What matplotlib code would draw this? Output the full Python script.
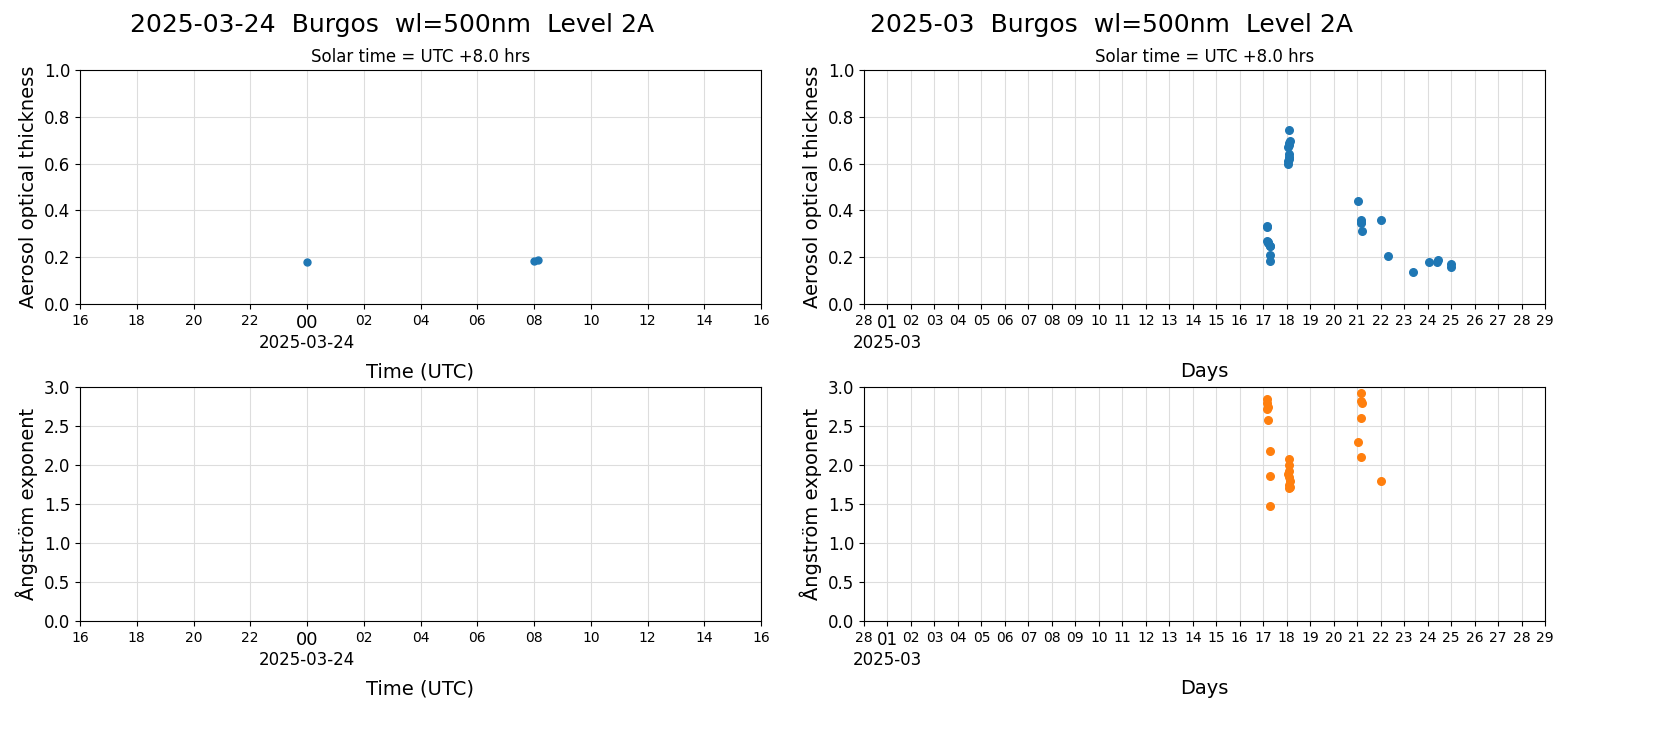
import matplotlib
matplotlib.use("Agg")
import matplotlib.pyplot as plt
import numpy as np

# Left panel: hours relative to 2025-03-24 00:00 UTC
day_hours = [0.0, 8.0, 8.15]
day_aod = [0.178, 0.182, 0.186]

# Right panel: day of March (fractional)
m_days_aod = [17.15, 17.15, 17.15, 17.2, 17.2, 17.3, 17.3, 17.3, 17.3,
              18.1, 18.1, 18.1, 18.15, 18.05, 18.1, 18.1, 18.1, 18.05, 18.05,
              21.05, 21.15, 21.15, 21.15, 21.2, 22.0, 22.3, 23.4, 24.05, 24.4, 24.45, 25.0, 25.0]
m_aod = [0.335, 0.33, 0.27, 0.26, 0.265, 0.25, 0.21, 0.185, 0.25,
         0.745, 0.69, 0.68, 0.695, 0.67, 0.64, 0.63, 0.62, 0.61, 0.60,
         0.44, 0.36, 0.35, 0.345, 0.31, 0.36, 0.205, 0.135, 0.18, 0.18, 0.19, 0.17, 0.16]
m_days_ae = [17.15, 17.15, 17.2, 17.15, 17.2, 17.3, 17.3, 17.3,
             18.1, 18.1, 18.1, 18.05, 18.1, 18.15, 18.1, 18.15, 18.1,
             21.15, 21.15, 21.2, 21.15, 21.05, 21.15, 22.0]
m_ae = [2.84, 2.80, 2.75, 2.72, 2.58, 2.18, 1.86, 1.47,
        2.08, 2.0, 1.92, 1.88, 1.85, 1.80, 1.75, 1.72, 1.70,
        2.92, 2.82, 2.80, 2.60, 2.29, 2.10, 1.80]

left_ticks = list(range(-8, 17, 2))
left_labels = ["16", "18", "20", "22", "00", "02", "04", "06", "08", "10", "12", "14", "16"]
right_ticks = list(range(0, 30))  # 0 = Feb 28
right_labels = ["28"] + ["%02d" % d for d in range(1, 30)]

fig = plt.figure(figsize=(16.54, 7.37), dpi=100)
axs = [[fig.add_axes([80/1654, 1-304/737, 681/1654, 234/737]),
        fig.add_axes([864/1654, 1-304/737, 681/1654, 234/737])],
       [fig.add_axes([80/1654, 1-621/737, 681/1654, 234/737]),
        fig.add_axes([864/1654, 1-621/737, 681/1654, 234/737])]]
blue, orange = "#1f77b4", "#ff7f0e"

for r in range(2):
    ax = axs[r][0]
    ax.set_xlim(-8, 16)
    ax.set_xticks(left_ticks)
    ax.set_xticklabels(left_labels)
    for lab in ax.get_xticklabels():
        if lab.get_text() == "00":
            lab.set_fontsize(13)
        else:
            lab.set_fontsize(10)
    ax.text(0, -0.13, "2025-03-24", transform=ax.get_xaxis_transform(), ha="center", va="top", fontsize=12)
    ax.set_xlabel("Time (UTC)", fontsize=14, labelpad=22)
    ax2 = axs[r][1]
    ax2.set_xlim(0, 29)
    ax2.set_xticks(right_ticks)
    ax2.set_xticklabels(right_labels, fontsize=10)
    ax2.get_xticklabels()[1].set_fontsize(12)
    ax2.text(1, -0.13, "2025-03", transform=ax2.get_xaxis_transform(), ha="center", va="top", fontsize=12)
    ax2.set_xlabel("Days", fontsize=14, labelpad=22)
    for a in (ax, ax2):
        a.grid(True, color="#dddddd")
        a.set_axisbelow(True)
        a.tick_params(axis="y", labelsize=12)

axs[0][0].scatter(day_hours, day_aod, s=25, color=blue)
axs[0][1].scatter(m_days_aod, m_aod, s=30, color=blue)
axs[1][1].scatter(m_days_ae, m_ae, s=30, color=orange)

for c in range(2):
    axs[0][c].set_ylim(0, 1)
    axs[0][c].set_ylabel("Aerosol optical thickness", fontsize=14)
    axs[0][c].set_title("Solar time = UTC +8.0 hrs", fontsize=12)
    axs[1][c].set_ylim(0, 3)
    axs[1][c].set_ylabel("Ångström exponent", fontsize=14)

fig.text(392/1654, 1-25/737, "2025-03-24  Burgos  wl=500nm  Level 2A", ha="center", va="center", fontsize=18)
fig.text(1111/1654, 1-25/737, "2025-03  Burgos  wl=500nm  Level 2A", ha="center", va="center", fontsize=18)

fig.savefig("out.png", dpi=100)
